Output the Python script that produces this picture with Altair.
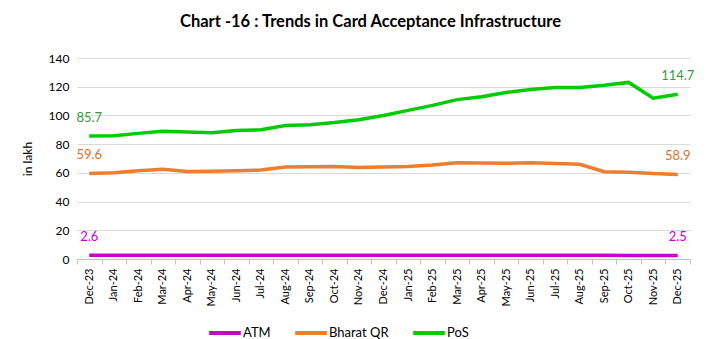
import altair as alt
import pandas as pd

months = ["Dec-23", "Jan-24", "Feb-24", "Mar-24", "Apr-24", "May-24", "Jun-24", "Jul-24",
          "Aug-24", "Sep-24", "Oct-24", "Nov-24", "Dec-24", "Jan-25", "Feb-25", "Mar-25",
          "Apr-25", "May-25", "Jun-25", "Jul-25", "Aug-25", "Sep-25", "Oct-25", "Nov-25", "Dec-25"]
atm = [2.6, 2.6, 2.6, 2.6, 2.6, 2.6, 2.6, 2.6, 2.6, 2.6, 2.6, 2.6, 2.6, 2.6, 2.6, 2.6,
       2.6, 2.6, 2.6, 2.6, 2.6, 2.6, 2.5, 2.5, 2.5]
bharat_qr = [59.6, 60.0, 61.5, 62.5, 61.0, 61.2, 61.5, 62.0, 64.0, 64.2, 64.5, 63.8, 64.0,
             64.5, 65.5, 67.0, 66.8, 66.7, 67.0, 66.5, 66.0, 60.8, 60.5, 59.5, 58.9]
pos = [85.7, 85.8, 87.5, 89.0, 88.5, 88.0, 89.5, 90.0, 93.0, 93.5, 95.0, 97.0, 100.0,
       103.5, 107.0, 111.0, 113.0, 116.0, 118.0, 119.5, 119.5, 121.0, 123.0, 112.0, 114.7]

series = ["ATM", "Bharat QR", "PoS"]
colors = ["#CC00CC", "#ED7D31", "#00CC00"]
label_colors = ["#CC00CC", "#E0702A", "#3A9A3A"]

rows = []
for name, vals in zip(series, [atm, bharat_qr, pos]):
    for i, (m, v) in enumerate(zip(months, vals)):
        rows.append({"Month": m, "Series": name, "Value": v,
                     "edge": i == 0 or i == len(months) - 1})
df = pd.DataFrame(rows)

font = "Lato"

x = alt.X("Month:N", sort=months,
          scale=alt.Scale(type="band", paddingInner=0, paddingOuter=0),
          axis=alt.Axis(title=None, labelAngle=-90, labelFontSize=11, labelColor="#000000",
                        labelFont=font, domainColor="#BFBFBF", tickColor="#BFBFBF",
                        tickBand="extent", tickSize=5, labelPadding=4, grid=False))
y = alt.Y("Value:Q", scale=alt.Scale(domain=[0, 140]),
          axis=alt.Axis(title="in lakh", titleFont=font, titleFontSize=12, titleFontWeight="normal",
                        titleColor="#000000", titlePadding=14, values=[0, 20, 40, 60, 80, 100, 120, 140],
                        labelFont=font, labelFontSize=12, labelColor="#000000", domain=False,
                        ticks=False, gridColor="#D9D9D9", labelPadding=8))

lines = alt.Chart(df).mark_line(strokeWidth=3.5).encode(
    x=x, y=y,
    color=alt.Color("Series:N", scale=alt.Scale(domain=series, range=colors),
                    legend=alt.Legend(title=None, orient="none", direction="horizontal",
                                      legendX=130, legendY=257, symbolType="stroke",
                                      symbolStrokeWidth=4, symbolSize=1000, labelFont=font,
                                      labelFontSize=13, labelColor="#000000", columnPadding=16,
                                      labelOffset=0))
)

labels = alt.Chart(df).transform_filter("datum.edge").mark_text(
    dy=-18, fontSize=13, font=font, align="center", baseline="middle"
).encode(
    x=x, y=y,
    text=alt.Text("Value:Q", format=".1f"),
    color=alt.Color("Series:N", scale=alt.Scale(domain=series, range=label_colors), legend=None)
)

chart = alt.layer(lines, labels).resolve_scale(color="independent").properties(
    width=613, height=201,
    title=alt.TitleParams("Chart -16 : Trends in Card Acceptance Infrastructure",
                          font=font, fontSize=16.5, fontWeight="bold", color="#000000",
                          anchor="middle", dx=-13, offset=22),
    padding={"left": 77, "top": 58, "right": 35, "bottom": 80},
    autosize=alt.AutoSizeParams(type="none"),
    background="white",
).configure_view(stroke=None)

chart.save("out.html", embed_options={"renderer": "svg", "actions": False})
